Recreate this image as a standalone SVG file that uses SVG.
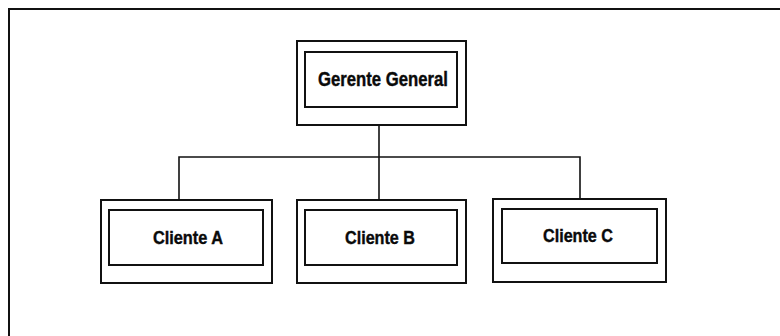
<svg xmlns="http://www.w3.org/2000/svg" width="780" height="336" viewBox="0 0 780 336">
  <style>
    .frame { fill: none; stroke: #111; stroke-width: 2; }
    .box { fill: #fff; stroke: #111; stroke-width: 2; }
    .wire { fill: none; stroke: #111; stroke-width: 1.6; }
    .label { font-family: "Liberation Sans", Arial, sans-serif; font-weight: bold; fill: #0a0a0a; text-anchor: middle; stroke: #0a0a0a; stroke-width: 0.4; }
  </style>
  <rect width="780" height="336" fill="#fff"/>

  <!-- page frame: top and left edges -->
  <path class="frame" d="M9,336 V9 H780"/>

  <!-- connectors -->
  <g id="connectors">
    <path class="wire" d="M379,125 V157"/>
    <path class="wire" d="M179,200 V157 H580 V200"/>
    <path class="wire" d="M379,157 V200"/>
  </g>

  <g id="gerente-general">
    <rect class="box" x="297" y="41" width="169" height="84"/>
    <rect class="box" x="305" y="52" width="152" height="55"/>
    <text class="label" x="383" y="86" font-size="19.5" textLength="130" lengthAdjust="spacingAndGlyphs">Gerente General</text>
  </g>

  <g id="cliente-a">
    <rect class="box" x="101" y="200" width="171" height="83"/>
    <rect class="box" x="109" y="210" width="154" height="55"/>
    <text class="label" x="188" y="244" font-size="18.5" textLength="70" lengthAdjust="spacingAndGlyphs">Cliente A</text>
  </g>

  <g id="cliente-b">
    <rect class="box" x="297" y="200" width="169" height="83"/>
    <rect class="box" x="305" y="210" width="152" height="55"/>
    <text class="label" x="380" y="244" font-size="18.5" textLength="70" lengthAdjust="spacingAndGlyphs">Cliente B</text>
  </g>

  <g id="cliente-c">
    <rect class="box" x="493" y="199" width="173" height="83"/>
    <rect class="box" x="502" y="209" width="155" height="54"/>
    <text class="label" x="578" y="242" font-size="18.5" textLength="70" lengthAdjust="spacingAndGlyphs">Cliente C</text>
  </g>
</svg>
